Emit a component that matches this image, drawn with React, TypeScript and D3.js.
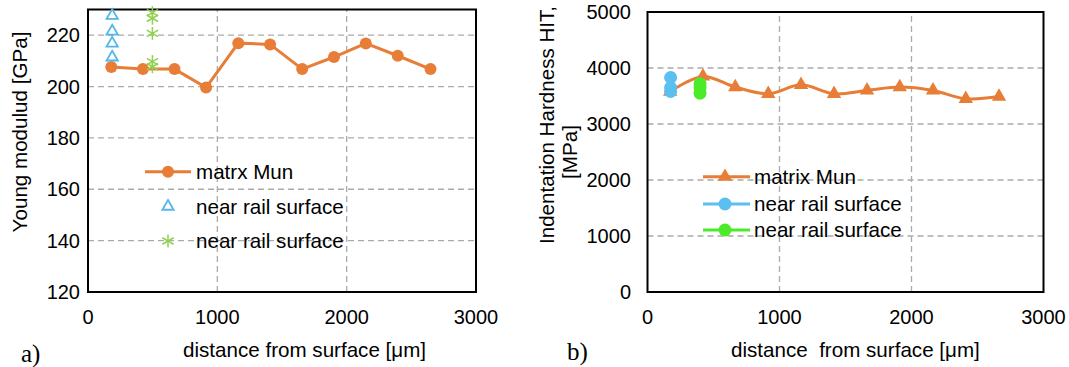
import React from "react";
import * as d3 from "d3";

// ---------- data: chart a (Young modulus) ----------
const distA = [180, 425, 669, 913, 1162, 1408, 1656, 1902, 2148, 2395, 2648];
const youngMatrix = [207.6, 206.8, 206.8, 199.6, 216.9, 216.4, 206.8, 211.5, 216.8, 212, 206.8];
const distBlueA = [187, 187, 187, 187];
const youngBlue = [227.6, 221.5, 216.8, 211.4];
const distGreenA = [498, 498, 498, 498, 498];
const youngGreen = [228.8, 226.6, 220.7, 209.7, 207.7];
const yTicksA = [120, 140, 160, 180, 200, 220];

// ---------- data: chart b (Indentation hardness) ----------
const distB = [172, 420, 665, 915, 1163, 1413, 1663, 1911, 2163, 2411, 2663];
const hardMatrix = [3580, 3850, 3660, 3540, 3700, 3540, 3600, 3660, 3600, 3450, 3490];
const distBlueB = [175, 175, 175];
const hardBlue = [3830, 3650, 3580];
const distGreenB = [398, 398, 398];
const hardGreen = [3720, 3650, 3550];
const yTicksB = [0, 1000, 2000, 3000, 4000, 5000];

const xTicks = [0, 1000, 2000, 3000];
const legendA = ["matrx Mun", "near rail surface", "near rail surface"];
const legendB = ["matrix Mun", "near rail surface", "near rail surface"];

const ORANGE = "#E87D37";
const BLUE_A = "#52B6EA";
const GREEN_A = "#92D050";
const BLUE_B = "#5BBFF0";
const GREEN_B = "#4CEB2A";
const GRID = "#ABABAB";
const FONT = "'Liberation Sans', Arial, sans-serif";
const SERIF = "'Liberation Serif', 'Times New Roman', serif";

const Asterisk = ({ x, y, r, color }: { x: number; y: number; r: number; color: string }) => {
  const d = r * 0.87;
  return (
    <g stroke={color} strokeWidth={1.5}>
      <line x1={x} y1={y - r} x2={x} y2={y + r} />
      <line x1={x - d} y1={y - r / 2} x2={x + d} y2={y + r / 2} />
      <line x1={x - d} y1={y + r / 2} x2={x + d} y2={y - r / 2} />
    </g>
  );
};

export default function App() {
  const xA = d3.scaleLinear().domain([0, 3000]).range([88, 476]);
  const yA = d3.scaleLinear().domain([120, 230]).range([292, 9.5]);
  const xB = d3.scaleLinear().domain([0, 3000]).range([647.5, 1043.5]);
  const yB = d3.scaleLinear().domain([0, 5000]).range([292, 12]);

  const lineA = d3
    .line<number>()
    .x((_, i) => xA(distA[i]))
    .y((d) => yA(d));
  const lineB = d3
    .line<number>()
    .x((_, i) => xB(distB[i]))
    .y((d) => yB(d))
    .curve(d3.curveCatmullRom.alpha(0.5));
  const lineBlueB = d3
    .line<number>()
    .x((_, i) => xB(distBlueB[i]))
    .y((d) => yB(d));
  const lineGreenB = d3
    .line<number>()
    .x((_, i) => xB(distGreenB[i]))
    .y((d) => yB(d));

  const triSmall = d3.symbol(d3.symbolTriangle, 55)() as string;
  const triBig = d3.symbol(d3.symbolTriangle, 90)() as string;

  const legRowsA = [171.7, 206.5, 241];
  const legRowsB = [176.7, 204, 230];
  const LF = 20.6;

  return (
    <svg
      width={1069}
      height={367}
      style={{ position: "absolute", left: 0, top: 0, background: "#fff" }}
      fontFamily={FONT}
    >
      <rect width={1069} height={367} fill="#fff" />
      {/* ================= chart a ================= */}
      <g>
        {yTicksA
          .filter((t) => t > 120)
          .map((t) => (
            <line key={"gya" + t} x1={xA(0)} x2={xA(3000)} y1={yA(t)} y2={yA(t)} stroke={GRID} strokeWidth={1.3} strokeDasharray="6,4" />
          ))}
        {xTicks
          .filter((t) => t > 0 && t < 3000)
          .map((t) => (
            <line key={"gxa" + t} x1={xA(t)} x2={xA(t)} y1={yA(120)} y2={yA(230)} stroke={GRID} strokeWidth={1.3} strokeDasharray="6,4" />
          ))}
        <rect x={xA(0)} y={yA(230)} width={xA(3000) - xA(0)} height={yA(120) - yA(230)} fill="none" stroke="#000" strokeWidth={2} />
        {yTicksA.map((t) => (
          <text key={"tya" + t} x={80} y={yA(t)} dy="0.35em" textAnchor="end" fontSize={20} fill="#000">
            {t}
          </text>
        ))}
        {xTicks.map((t) => (
          <text key={"txa" + t} x={xA(t)} y={324} textAnchor="middle" fontSize={20} fill="#000">
            {t}
          </text>
        ))}
        <text x={183} y={357} fontSize={LF} fill="#000">
          distance from surface [μm]
        </text>
        <text transform="translate(27,132) rotate(-90)" textAnchor="middle" fontSize={LF} fill="#000">
          Young modulud [GPa]
        </text>
        <text x={21} y={362} fontSize={25} fontFamily={SERIF} fill="#000">
          a)
        </text>
        <path d={lineA(youngMatrix) as string} fill="none" stroke={ORANGE} strokeWidth={3} />
        {youngMatrix.map((v, i) => (
          <circle key={"ma" + i} cx={xA(distA[i])} cy={yA(v)} r={6} fill={ORANGE} />
        ))}
        {youngBlue.map((v, i) => (
          <path key={"ba" + i} d={triSmall} transform={`translate(${xA(distBlueA[i])},${yA(v)})`} fill="none" stroke={BLUE_A} strokeWidth={1.8} />
        ))}
        {youngGreen.map((v, i) => (
          <Asterisk key={"ga" + i} x={xA(distGreenA[i])} y={yA(v)} r={6.5} color={GREEN_A} />
        ))}
        <line x1={145} x2={191} y1={legRowsA[0]} y2={legRowsA[0]} stroke={ORANGE} strokeWidth={3} />
        <circle cx={168} cy={legRowsA[0]} r={6} fill={ORANGE} />
        <path d={triSmall} transform={`translate(168,${legRowsA[1]})`} fill="none" stroke={BLUE_A} strokeWidth={1.8} />
        <Asterisk x={168} y={legRowsA[2]} r={6.5} color={GREEN_A} />
        {legendA.map((s, i) => (
          <text key={"la" + i} x={196} y={legRowsA[i]} dy="0.35em" fontSize={LF} fill="#000">
            {s}
          </text>
        ))}
      </g>

      {/* ================= chart b ================= */}
      <g>
        {yTicksB
          .filter((t) => t > 0 && t < 5000)
          .map((t) => (
            <line key={"gyb" + t} x1={xB(0)} x2={xB(3000)} y1={yB(t)} y2={yB(t)} stroke={GRID} strokeWidth={1.3} strokeDasharray="6,4" />
          ))}
        {xTicks
          .filter((t) => t > 0 && t < 3000)
          .map((t) => (
            <line key={"gxb" + t} x1={xB(t)} x2={xB(t)} y1={yB(0)} y2={yB(5000)} stroke={GRID} strokeWidth={1.3} strokeDasharray="6,4" />
          ))}
        <rect x={xB(0)} y={yB(5000)} width={xB(3000) - xB(0)} height={yB(0) - yB(5000)} fill="none" stroke="#000" strokeWidth={2} />
        {yTicksB.map((t) => (
          <text key={"tyb" + t} x={631} y={yB(t)} dy="0.35em" textAnchor="end" fontSize={20} fill="#000">
            {t}
          </text>
        ))}
        {xTicks.map((t) => (
          <text key={"txb" + t} x={xB(t)} y={324} textAnchor="middle" fontSize={20} fill="#000">
            {t}
          </text>
        ))}
        <text x={731} y={357} fontSize={LF} fill="#000" style={{ whiteSpace: "pre" }}>
          {"distance  from surface [μm]"}
        </text>
        <text transform="translate(554,125) rotate(-90)" textAnchor="middle" fontSize={LF} fill="#000">
          Indentation Hardness HIT,
        </text>
        <text transform="translate(577,152) rotate(-90)" textAnchor="middle" fontSize={LF} fill="#000">
          [MPa]
        </text>
        <text x={567} y={360} fontSize={25} fontFamily={SERIF} fill="#000">
          b)
        </text>
        <path d={lineB(hardMatrix) as string} fill="none" stroke={ORANGE} strokeWidth={3} />
        {hardMatrix.map((v, i) => (
          <path key={"mb" + i} d={triBig} transform={`translate(${xB(distB[i])},${yB(v)})`} fill={ORANGE} />
        ))}
        <path d={lineBlueB(hardBlue) as string} fill="none" stroke={BLUE_B} strokeWidth={3} />
        {hardBlue.map((v, i) => (
          <circle key={"bb" + i} cx={xB(distBlueB[i])} cy={yB(v)} r={6.5} fill={BLUE_B} />
        ))}
        <path d={lineGreenB(hardGreen) as string} fill="none" stroke={GREEN_B} strokeWidth={3} />
        {hardGreen.map((v, i) => (
          <circle key={"gb" + i} cx={xB(distGreenB[i])} cy={yB(v)} r={6.5} fill={GREEN_B} />
        ))}
        <line x1={703} x2={750} y1={legRowsB[0]} y2={legRowsB[0]} stroke={ORANGE} strokeWidth={3} />
        <path d={triBig} transform={`translate(725,${legRowsB[0]})`} fill={ORANGE} />
        <line x1={703} x2={750} y1={legRowsB[1]} y2={legRowsB[1]} stroke={BLUE_B} strokeWidth={3} />
        <circle cx={725} cy={legRowsB[1]} r={6.5} fill={BLUE_B} />
        <line x1={703} x2={750} y1={legRowsB[2]} y2={legRowsB[2]} stroke={GREEN_B} strokeWidth={3} />
        <circle cx={725} cy={legRowsB[2]} r={6.5} fill={GREEN_B} />
        {legendB.map((s, i) => (
          <text key={"lb" + i} x={754} y={legRowsB[i]} dy="0.35em" fontSize={LF} fill="#000">
            {s}
          </text>
        ))}
      </g>
    </svg>
  );
}
